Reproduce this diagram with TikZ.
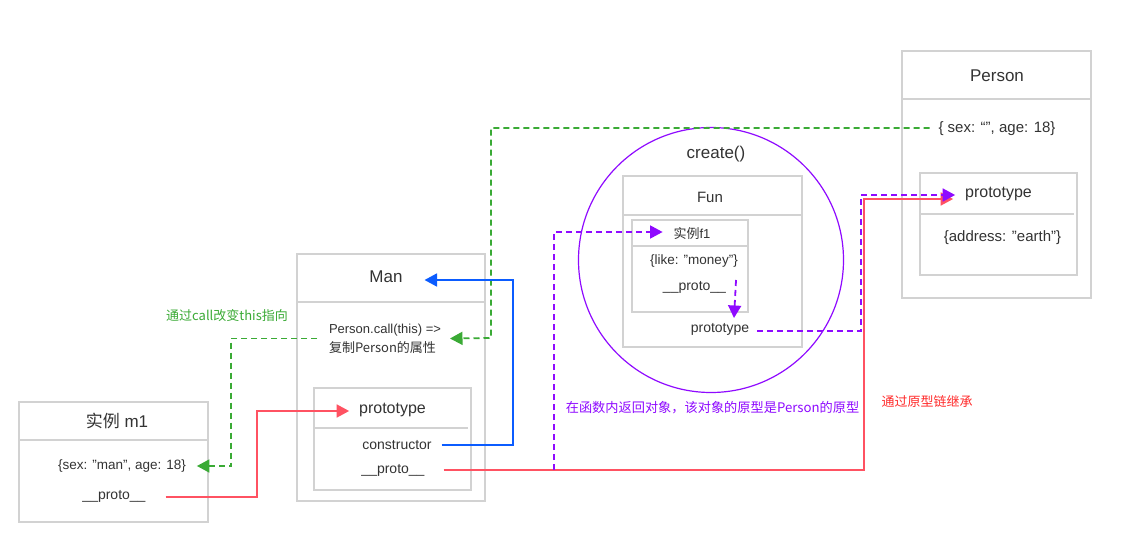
\documentclass[tikz,border=0pt]{standalone}
\usepackage{fontspec}
\setmainfont{Liberation Sans}
\newfontfamily\cjk{Noto Sans CJK SC}
\usetikzlibrary{arrows.meta}
\definecolor{boxgray}{HTML}{D2D2D2}
\definecolor{textgray}{HTML}{333333}
\definecolor{cgreen}{HTML}{3AAA35}
\definecolor{cblue}{HTML}{0B5CFF}
\definecolor{cpurple}{HTML}{8F0AFF}
\definecolor{cred}{HTML}{FF5262}
\definecolor{credtext}{HTML}{FF2B2B}
\newcommand{\fs}[1]{\fontsize{#1}{#1}\selectfont}
\tikzset{
  box/.style={draw=boxgray, line width=1.3pt, inner sep=0pt, outer sep=0pt, anchor=north west},
  sepline/.style={draw=boxgray, line width=1.2pt},
  lbl/.style={text=textgray, inner sep=0pt, outer sep=0pt},
  conn/.style={line width=1.8pt, -{Triangle[length=12.5pt,width=13pt]}},
  dsh/.style={dash pattern=on 6pt off 4pt},
}
\begin{document}
\begin{tikzpicture}[x=1pt,y=-1pt]
\useasboundingbox[fill=white] (0,0) rectangle (1133,559);

% create() circle
\node[draw=cpurple, line width=1.2pt, circle, minimum size=265pt, inner sep=0pt] (create) at (711,260) {};
\node[lbl, font=\fs{17}] (createtitle) at (716,154) {create()};

% Man
\node[box, minimum width=188pt, minimum height=247pt] (man) at (297,254) {};
\draw[sepline] (297,302) -- (485,302);
\node[lbl, font=\fs{17}] (mantitle) at (386,277) {Man};
\node[lbl, font=\fontsize{13}{19}\selectfont, align=left, anchor=west] (pcall) at (329,338.5) {Person.call(this) =>\\{\cjk 复制Person的属性}};
\node[box, minimum width=157pt, minimum height=102pt] (maninner) at (314,388) {};
\draw[sepline] (314,428) -- (468,428);
\node[lbl, font=\fs{16}] (manproto) at (392.5,410) {prototype};
\node[lbl, font=\fs{14}] (ctor) at (397,445) {constructor};
\node[lbl, font=\fs{14}] (manunder) at (393,470) {\_\_proto\_\_};

% m1
\node[box, minimum width=189pt, minimum height=120pt] (m1) at (19,402) {};
\draw[sepline] (19,440) -- (208,440);
\node[lbl, font=\fs{17}] (m1title) at (117,421) {{\cjk 实例} m1};
\node[lbl, font=\fs{13.5}] (m1obj) at (122,466) {\{sex: ”man”, age: 18\}};
\node[lbl, font=\fs{14}] (m1proto) at (114,496) {\_\_proto\_\_};

% Person
\node[box, minimum width=189pt, minimum height=247pt] (person) at (902,51) {};
\draw[sepline] (902,99) -- (1091,99);
\node[lbl, font=\fs{17}] (persontitle) at (997,76) {Person};
\node[lbl, font=\fs{15}] (pobj) at (997,129) {\{ sex: “”, age: 18\}};
\node[box, minimum width=157pt, minimum height=102pt] (pinner) at (920,173) {};
\draw[sepline] (920,214) -- (1074,214);
\node[lbl, font=\fs{16}] (pproto) at (998.5,194) {prototype};
\node[lbl, font=\fs{15}] (paddr) at (1002.5,238) {\{address: ”earth”\}};

% Fun
\node[box, minimum width=179pt, minimum height=171pt] (fun) at (623,176) {};
\draw[sepline] (623,215) -- (802,215);
\node[lbl, font=\fs{15}] (funtitle) at (710,197) {Fun};
\node[box, minimum width=116pt, minimum height=92pt] (f1) at (632,220) {};
\draw[sepline] (632,246) -- (748,246);
\node[lbl, font=\fs{13}] (f1title) at (692,234) {{\cjk 实例}f1};
\node[lbl, font=\fs{13.5}] (f1obj) at (694,261) {\{like: ”money”\}};
\node[lbl, font=\fs{14}] (f1proto) at (694.5,287) {\_\_proto\_\_};
\node[lbl, font=\fs{14}] (funproto) at (720,329) {prototype};

% labels
\node[lbl, text=cgreen, font=\cjk\fs{13}] (glabel) at (227,316) {通过call改变this指向};
\node[lbl, text=cpurple, font=\cjk\fs{13.2}] (plabel) at (712.5,408) {在函数内返回对象，该对象的原型是Person的原型};
\node[lbl, text=credtext, font=\cjk\fs{13}] (rlabel) at (927,402) {通过原型链继承};

% bend points
\coordinate (gtop) at (491,338);
\coordinate (gleft) at (231,466);
\coordinate (rleft) at (257,411);
\coordinate (rmain) at (864,199);
\coordinate (pmain) at (861,195);
\coordinate (pstart) at (554,470);
\coordinate (bbend) at (513,280);

% green dashed
\draw[conn, dsh, cgreen] ([xshift=-9pt,yshift=1pt]pobj.west) -| (gtop) -- ([xshift=9pt]pcall.east);
\draw[conn, dsh, cgreen] ([xshift=-12pt]pcall.west) -| (gleft) -- ([xshift=11pt]m1obj.east);

% red
\draw[conn, cred] ([xshift=20pt,yshift=-1pt]m1proto.east) -| (rleft) -- ([xshift=-10pt,yshift=-1pt]manproto.west);
\draw[conn, cred] ([xshift=19pt]manunder.east) -| (rmain) -- ([xshift=-12pt,yshift=-5pt]pproto.west);

% purple dashed
\draw[conn, dsh, cpurple] (pstart) |- ([xshift=-11pt,yshift=2pt]f1title.west);
\draw[conn, dsh, cpurple] ([xshift=10pt,yshift=7pt]f1proto.east) -- ([xshift=14pt,yshift=11pt]funproto.center);
\draw[conn, dsh, cpurple] ([xshift=8pt,yshift=-2pt]funproto.east) -| (pmain) -- ([xshift=-10pt,yshift=-1pt]pproto.west);

% blue
\draw[conn, cblue] ([xshift=10pt]ctor.east) -| (bbend) -- ([xshift=22pt,yshift=-3pt]mantitle.east);
\end{tikzpicture}
\end{document}
